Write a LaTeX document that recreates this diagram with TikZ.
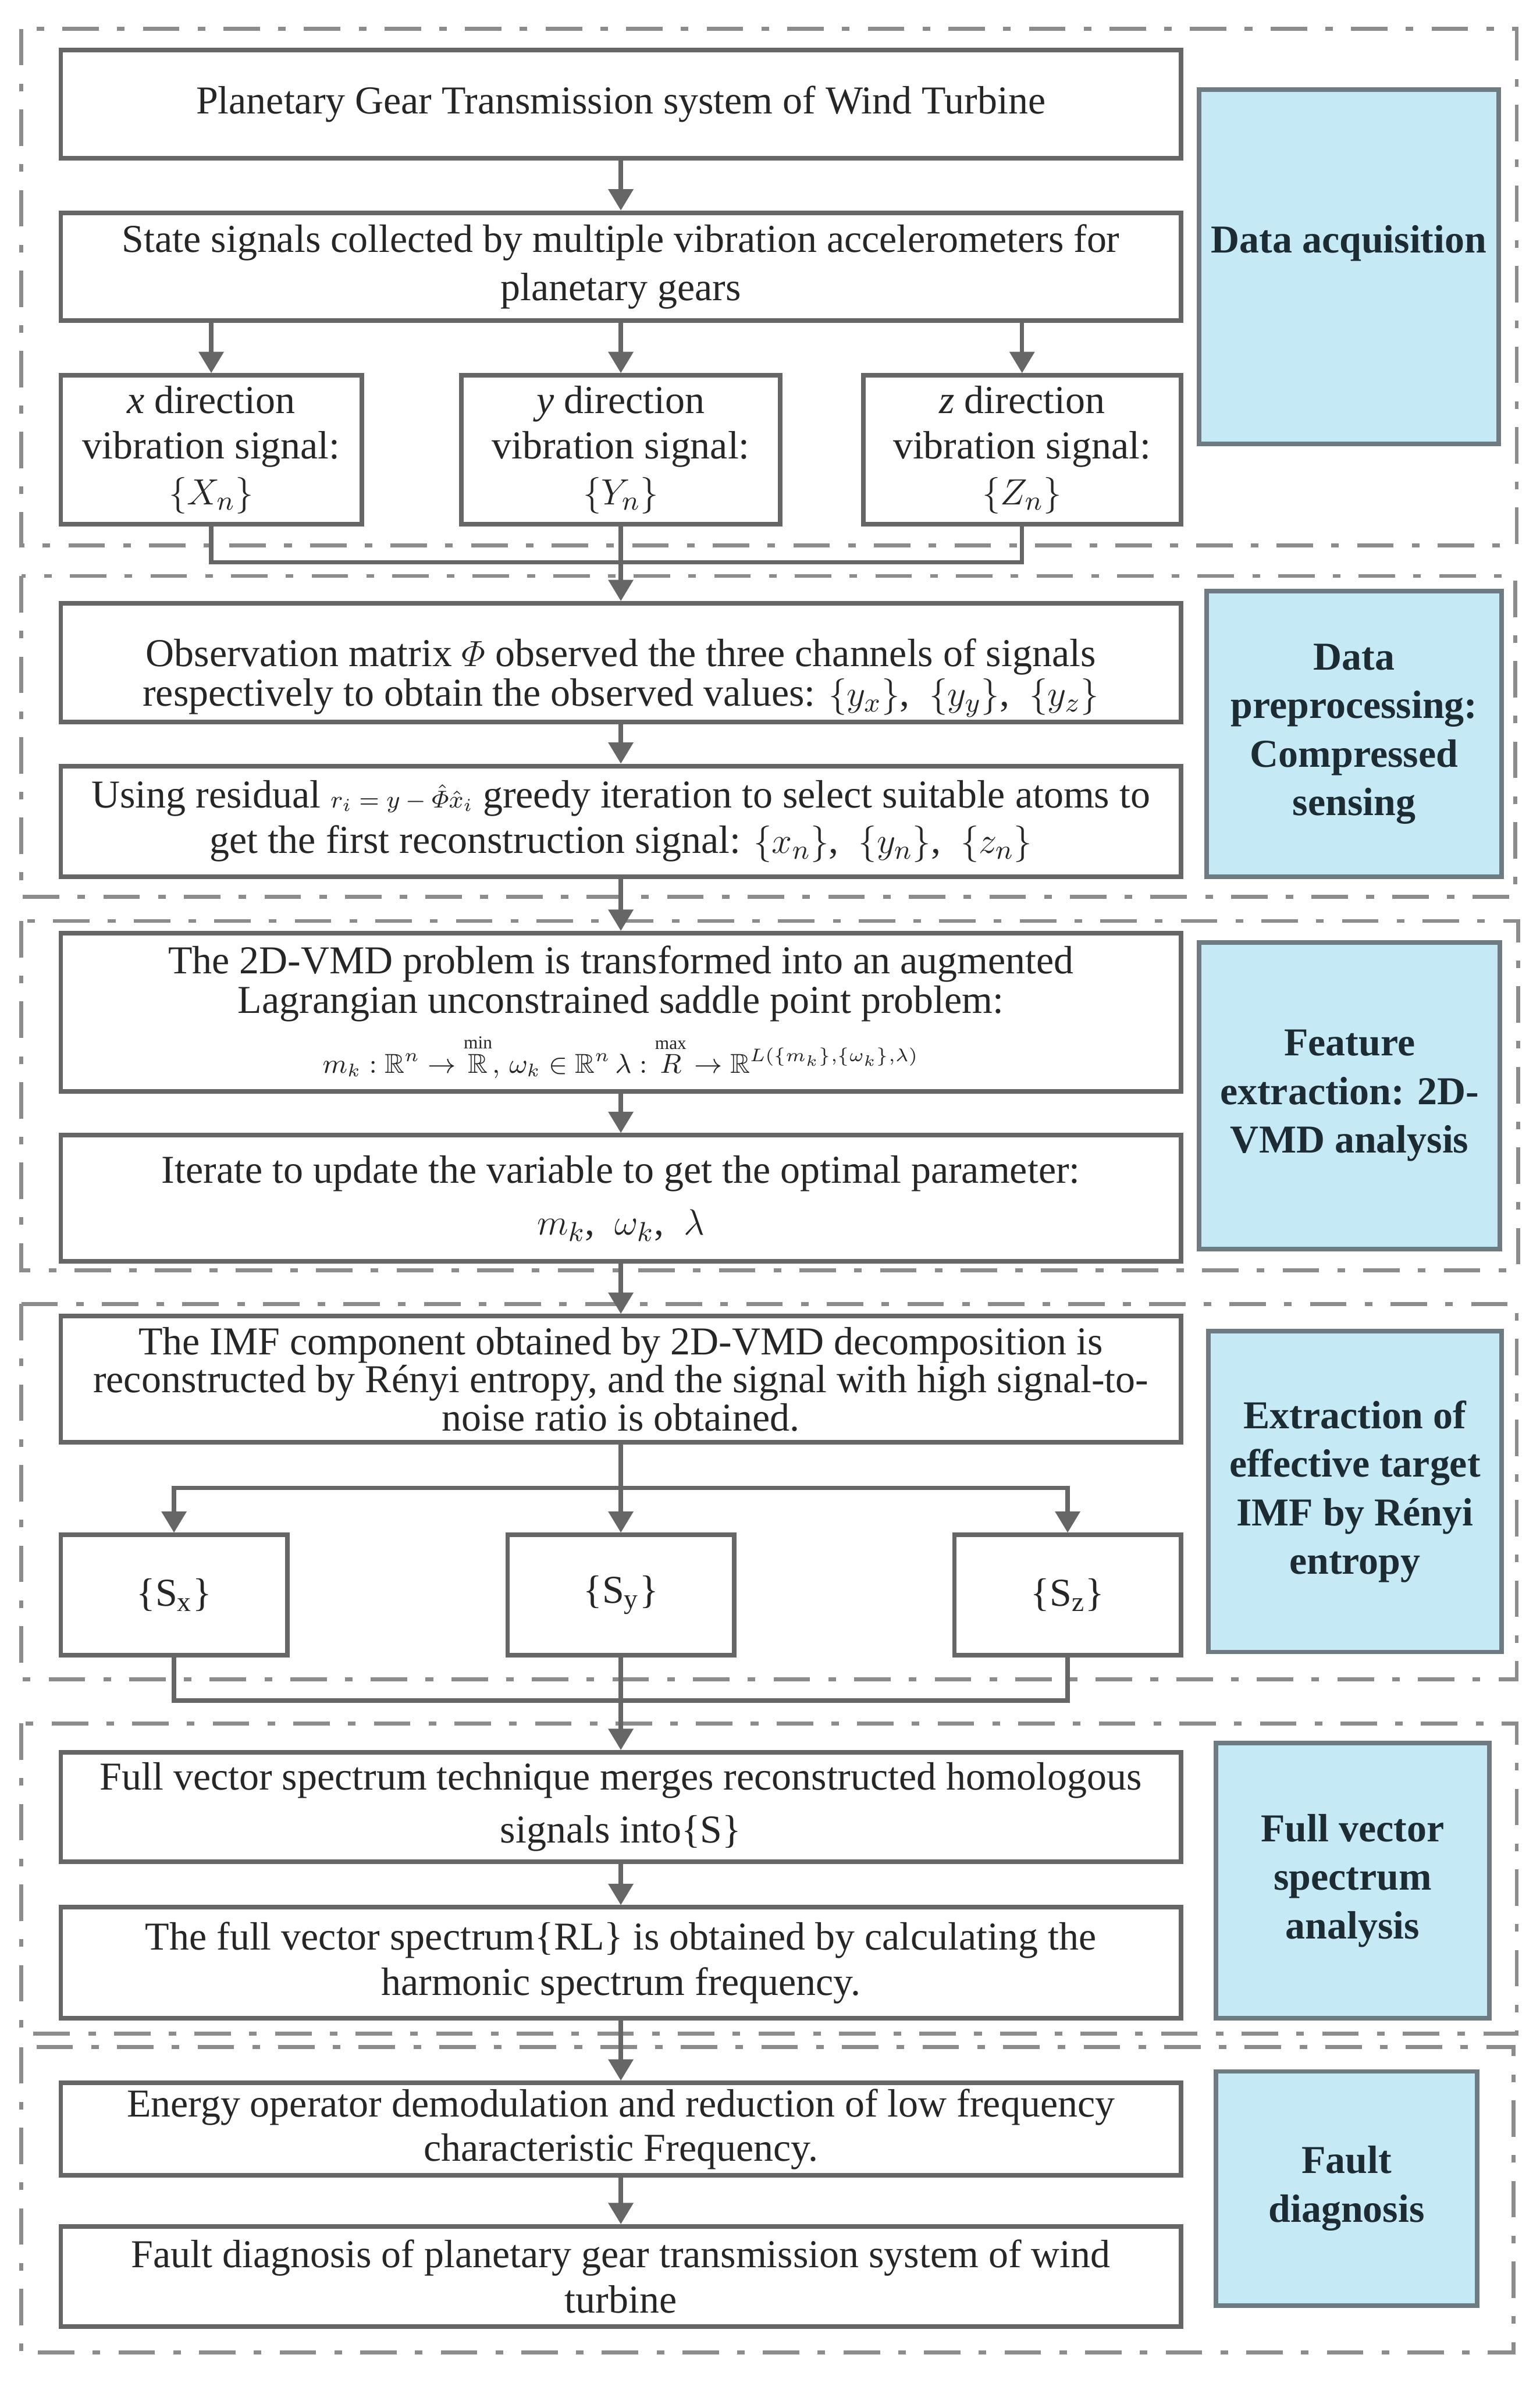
\documentclass[tikz,border=0pt]{standalone}
\usepackage{amsmath,amssymb}
\usepackage{fontspec}
\setmainfont{Liberation Serif}
\usetikzlibrary{arrows.meta}
\definecolor{boxgray}{HTML}{666666}
\definecolor{dashgray}{HTML}{8C8C8C}
\definecolor{bluefill}{HTML}{C6EAF5}
\definecolor{blueedge}{HTML}{6E7C82}
\definecolor{bluetext}{HTML}{1C2C32}
\tikzset{
  mainbox/.style={draw=boxgray, line width=1.5pt, fill=white, align=center, inner sep=2pt,
    font=\fontsize{13}{15}\selectfont, text=black!85},
  bluebox/.style={draw=blueedge, line width=1.5pt, fill=bluefill, align=center, inner sep=2pt,
    font=\bfseries\fontsize{13}{16}\selectfont, text=bluetext},
  bluelabel/.style={align=center, inner sep=0pt, font=\bfseries\fontsize{13}{16}\selectfont, text=bluetext},
  plainlabel/.style={align=center, inner sep=0pt, font=\fontsize{13}{13}\selectfont, text=black!85},
  stagebox/.style={draw=dashgray, line width=1.3pt, dash pattern=on 12pt off 6pt on 2.5pt off 6pt},
  arr/.style={draw=boxgray, line width=1.4pt, -{Triangle[width=8pt,length=7pt]}},
  conn/.style={draw=boxgray, line width=1.4pt},
}
\begin{document}
\begin{tikzpicture}[x=0.5pt, y=-0.5pt]
\useasboundingbox (0,0) rectangle (1013,1568);
\fill[white] (0,0) rectangle (1013,1568);

% stage frames
\draw[stagebox] (14,19) rectangle (998,359);
\draw[stagebox] (14,379) rectangle (997,590);
\draw[stagebox] (14,606) rectangle (999,836);
\draw[stagebox] (14,858) rectangle (998,1105);
\draw[stagebox] (14,1134) rectangle (998,1338);
\draw[stagebox] (14,1347) rectangle (996,1548);

% ---- Stage 1
\node[mainbox, minimum width=368.5pt, minimum height=35.5pt] (b1) at (408.5,68.5)
  {Planetary Gear Transmission system of Wind Turbine};
\node[mainbox, minimum width=368.5pt, minimum height=35.5pt, font=\fontsize{13}{16}\selectfont] (b2) at (408.5,175.5)
  {State signals collected by multiple vibration accelerometers for\\ planetary gears};
\node[mainbox, minimum width=99pt, minimum height=49pt] (bx) at (139,296)
  {\textit{x} direction\\ vibration signal:\\ $\{X_n\}$};
\node[mainbox, minimum width=105pt, minimum height=49pt] (by) at (408.5,296)
  {\textit{y} direction\\ vibration signal:\\ $\{Y_n\}$};
\node[mainbox, minimum width=104.5pt, minimum height=49pt] (bz) at (672.5,296)
  {\textit{z} direction\\ vibration signal:\\ $\{Z_n\}$};
\node[bluebox, minimum width=98.5pt, minimum height=116.5pt] (blue1) at (887.5,175.5) {};
\node[bluelabel] (blue1t) at (887.5,160) {Data acquisition};

% ---- Stage 2
\node[mainbox, minimum width=368.5pt, minimum height=39pt] (b4) at (408.5,436) {};
\node[plainlabel] (b4t) at (408.5,446)
  {Observation matrix $\varPhi$ observed the three channels of signals\\
   respectively to obtain the observed values: $\{y_x\}$,\ \ $\{y_y\}$,\ \ $\{y_z\}$};
\node[mainbox, minimum width=368.5pt, minimum height=36.5pt] (b5) at (408.5,540.5)
  {Using residual {\footnotesize$r_i=y-\hat{\varPhi}\hat{x}_i$} greedy iteration to select suitable atoms to\\
   get the first reconstruction signal: $\{x_n\}$,\ \ $\{y_n\}$,\ \ $\{z_n\}$};
\node[bluebox, minimum width=97pt, minimum height=94pt] (blue2) at (891,483)
  {Data\\ preprocessing:\\ Compressed\\ sensing};

% ---- Stage 3
\node[mainbox, minimum width=368.5pt, minimum height=52pt, font=\fontsize{13}{13}\selectfont] (b6) at (408.5,666)
  {The 2D-VMD problem is transformed into an augmented\\
   Lagrangian unconstrained saddle point problem:\\[3pt]
   {\fontsize{9}{11}\selectfont $m_k:\mathbb{R}^n\rightarrow\overset{\min}{\mathbb{R}},\,\omega_k\in\mathbb{R}^n\,\lambda:\overset{\max}{R}\rightarrow\mathbb{R}^{L(\{m_k\},\{\omega_k\},\lambda)}$}};
\node[mainbox, minimum width=368.5pt, minimum height=41.5pt, font=\fontsize{13}{17}\selectfont] (b7) at (408.5,788.5)
  {Iterate to update the variable to get the optimal parameter:\\
   $m_k$,\ \ $\omega_k$,\ \ $\lambda$};
\node[bluebox, minimum width=99pt, minimum height=101pt] (blue3) at (888,721)
  {Feature\\ extraction: 2D-\\ VMD analysis};

% ---- Stage 4
\node[mainbox, minimum width=368.5pt, minimum height=41.5pt, font=\fontsize{13}{12.5}\selectfont] (b8) at (408.5,907.5)
  {The IMF component obtained by 2D-VMD decomposition is\\
   reconstructed by Rényi entropy, and the signal with high signal-to-\\
   noise ratio is obtained.};
\node[mainbox, minimum width=74.5pt, minimum height=39.5pt] (sx) at (114.5,1049.5) {\{S\textsubscript{x}\}};
\node[mainbox, minimum width=74.5pt, minimum height=39.5pt] (sy) at (408.5,1049.5) {\{S\textsubscript{y}\}};
\node[mainbox, minimum width=74.5pt, minimum height=39.5pt] (sz) at (702.5,1049.5) {\{S\textsubscript{z}\}};
\node[bluebox, minimum width=96.5pt, minimum height=105.5pt] (blue4) at (891.5,981.5)
  {Extraction of\\ effective target\\ IMF by Rényi\\ entropy};

% ---- Stage 5
\node[mainbox, minimum width=368.5pt, minimum height=36pt, font=\fontsize{13}{17.5}\selectfont] (b10) at (408.5,1189)
  {Full vector spectrum technique merges reconstructed homologous\\ signals into\{S\}};
\node[mainbox, minimum width=368.5pt, minimum height=36.5pt] (b11) at (408.5,1291.5)
  {The full vector spectrum\{RL\} is obtained by calculating the\\ harmonic spectrum frequency.};
\node[bluebox, minimum width=90pt, minimum height=90.5pt] (blue5) at (890,1237.5)
  {Full vector\\ spectrum\\ analysis};

% ---- Stage 6
\node[mainbox, minimum width=368.5pt, minimum height=29pt, font=\fontsize{13}{14.5}\selectfont] (b12) at (408.5,1401)
  {Energy operator demodulation and reduction of low frequency\\ characteristic Frequency.};
\node[mainbox, minimum width=368.5pt, minimum height=33pt] (b13) at (408.5,1498)
  {Fault diagnosis of planetary gear transmission system of wind\\ turbine};
\node[bluebox, minimum width=86pt, minimum height=77pt] (blue6) at (886,1440)
  {Fault\\ diagnosis};

% junction points
\coordinate (j1) at (408.5,370);
\coordinate (j3) at (408.5,979);
\coordinate (j4) at (408.5,1119);

% ---- connectors
\draw[arr] (b1) -- (b2);
\draw[arr] (b2.south -| bx) -- (bx.north);
\draw[arr] (b2.south -| by) -- (by.north);
\draw[arr] (b2.south -| bz) -- (bz.north);
\draw[conn] (bx.south) |- (j1) -| (bz.south);
\draw[conn] (by.south) -- (j1);
\draw[arr] (j1) -- (b4.north);
\draw[arr] (b4) -- (b5);
\draw[arr] (b5) -- (b6);
\draw[arr] (b6) -- (b7);
\draw[arr] (b7) -- (b8);
\draw[conn] (b8.south) -- (j3);
\draw[arr] (j3) -| (sx.north);
\draw[arr] (j3) -| (sz.north);
\draw[arr] (j3) -- (sy.north);
\draw[conn] (sx.south) |- (j4) -| (sz.south);
\draw[conn] (sy.south) -- (j4);
\draw[arr] (j4) -- (b10.north);
\draw[arr] (b10) -- (b11);
\draw[arr] (b11) -- (b12);
\draw[arr] (b12) -- (b13);
\end{tikzpicture}
\end{document}
